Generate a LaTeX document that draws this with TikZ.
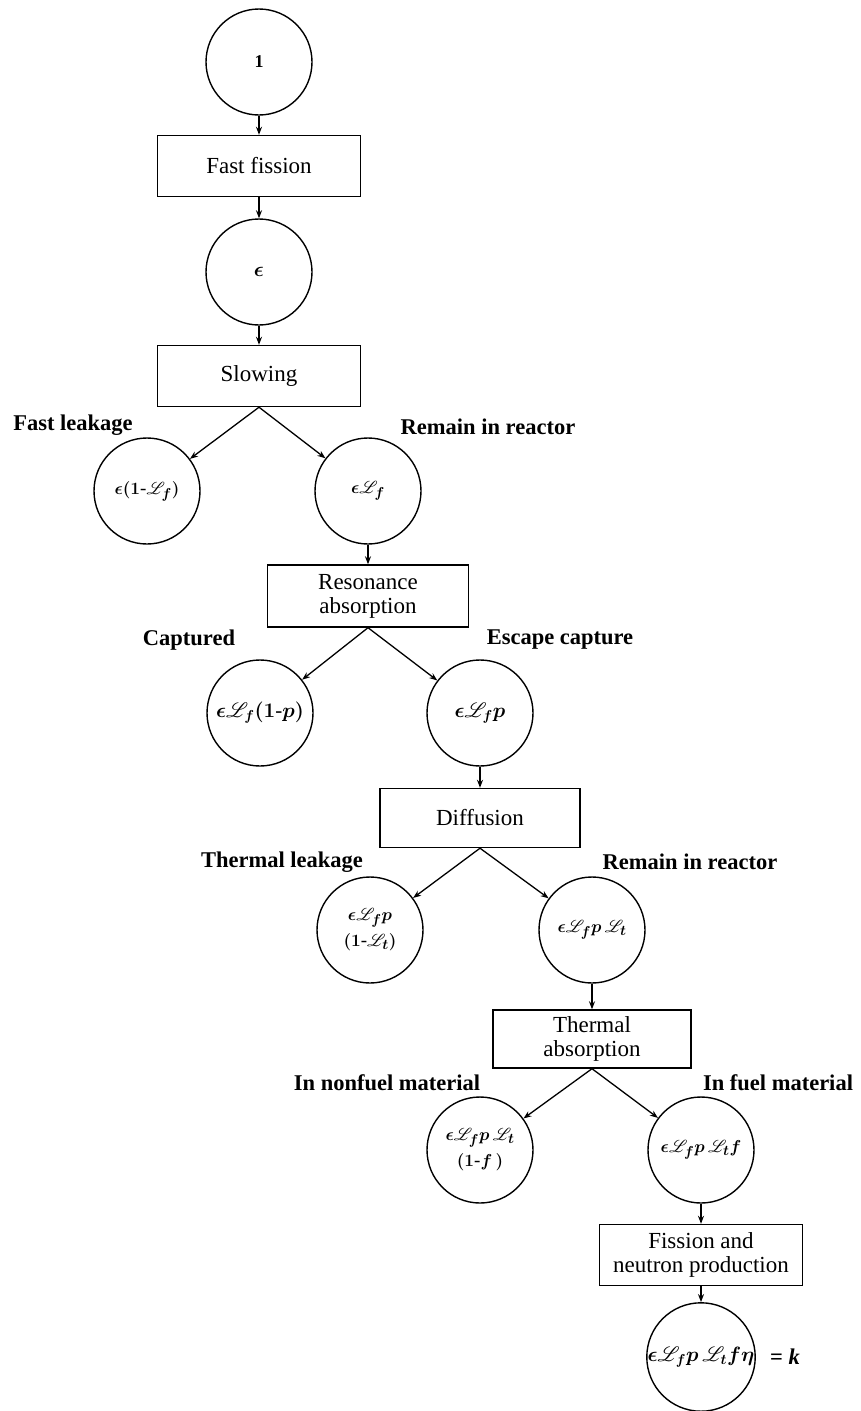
\documentclass[tikz,border=0pt]{standalone}
\usepackage{fontspec}
\setmainfont{Liberation Serif}
\usepackage{mathrsfs}
\usetikzlibrary{arrows.meta}
\newcommand{\Lsc}{\mathscr{L}}
\newcommand{\hy}{\mbox{-}}
\begin{document}
\begin{tikzpicture}[x=1pt,y=-1pt,
  every node/.style={inner sep=0pt},
  circ/.style={circle,draw,line width=1.4pt,minimum size=106pt,align=center,font=\fontsize{19}{26}\selectfont\boldmath},
  stepbox/.style={rectangle,draw,line width=1.4pt,minimum width=203pt,minimum height=61pt,align=center,font=\fontsize{23}{24}\selectfont},
  lab/.style={font=\fontsize{22.5}{24}\selectfont\bfseries},
  arr/.style={line width=1.3pt,-{Stealth[length=8pt,width=6pt]}}]
\useasboundingbox (0,0) rectangle (861,1411);
% column 1
\node[circ,font=\fontsize{18}{20}\selectfont\bfseries] (c1) at (259,62) {1};
\node[stepbox] (b1) at (259,166) {Fast fission};
\node[circ,font=\fontsize{21}{22}\selectfont\boldmath] (c2) at (259,272) {$\epsilon$};
\node[stepbox] (b2) at (259,376) {Slowing};
% split 1
\node[lab] (l1) at (73,425) {Fast leakage};
\node[lab] (r1) at (488,427) {Remain in reactor};
\node[circ] (c3L) at (147,491) {$\epsilon(1\hy\Lsc_f)$};
\node[circ] (c3R) at (368,491) {$\epsilon\Lsc_f$};
\node[stepbox,minimum width=201pt,minimum height=62pt] (b3) at (368,596) {Resonance\\absorption};
% split 2
\node[lab] (l2) at (189,640) {Captured};
\node[lab] (r2) at (560,640) {Escape capture};
\node[circ,font=\fontsize{21}{23}\selectfont\boldmath] (c4L) at (260,713) {$\epsilon\Lsc_f(1\hy p)$};
\node[circ,font=\fontsize{21}{23}\selectfont\boldmath] (c4R) at (480,713) {$\epsilon\Lsc_f p$};
\node[stepbox,minimum width=200pt,minimum height=59pt] (b4) at (480,818) {Diffusion};
% split 3
\node[lab] (l3) at (282,862) {Thermal leakage};
\node[lab] (r3) at (690,862) {Remain in reactor};
\node[circ] (c5L) at (370,930) {$\epsilon\Lsc_f p$\\$(1\hy\Lsc_t)$};
\node[circ] (c5R) at (592,930) {$\epsilon\Lsc_f p\,\Lsc_t$};
\node[stepbox,minimum width=198pt,minimum height=58pt] (b5) at (592,1039) {Thermal\\absorption};
% split 4
\node[lab] (l4) at (387,1083) {In nonfuel material};
\node[lab] (r4) at (778,1083) {In fuel material};
\node[circ] (c6L) at (480,1150) {$\epsilon\Lsc_f p\,\Lsc_t$\\$(1\hy f\,)$};
\node[circ] (c6R) at (701,1150) {$\epsilon\Lsc_f p\,\Lsc_t f$};
\node[stepbox] (b6) at (701,1255) {Fission and\\neutron production};
\node[circ,font=\fontsize{20}{23}\selectfont\boldmath] (c7) at (701,1357) {$\epsilon\Lsc_f p\,\Lsc_t f\eta$};
\node[lab] (k) at (785,1357) {= \textit{k}};
% connectors
\draw[arr] (c1) -- (b1);
\draw[arr] (b1) -- (c2);
\draw[arr] (c2) -- (b2);
\draw[arr] (b2.south) -- (c3L);
\draw[arr] (b2.south) -- (c3R);
\draw[arr] (c3R) -- (b3);
\draw[arr] (b3.south) -- (c4L);
\draw[arr] (b3.south) -- (c4R);
\draw[arr] (c4R) -- (b4);
\draw[arr] (b4.south) -- (c5L);
\draw[arr] (b4.south) -- (c5R);
\draw[arr] (c5R) -- (b5);
\draw[arr] (b5.south) -- (c6L);
\draw[arr] (b5.south) -- (c6R);
\draw[arr] (c6R) -- (b6);
\draw[arr] (b6) -- (c7);
\end{tikzpicture}
\end{document}
